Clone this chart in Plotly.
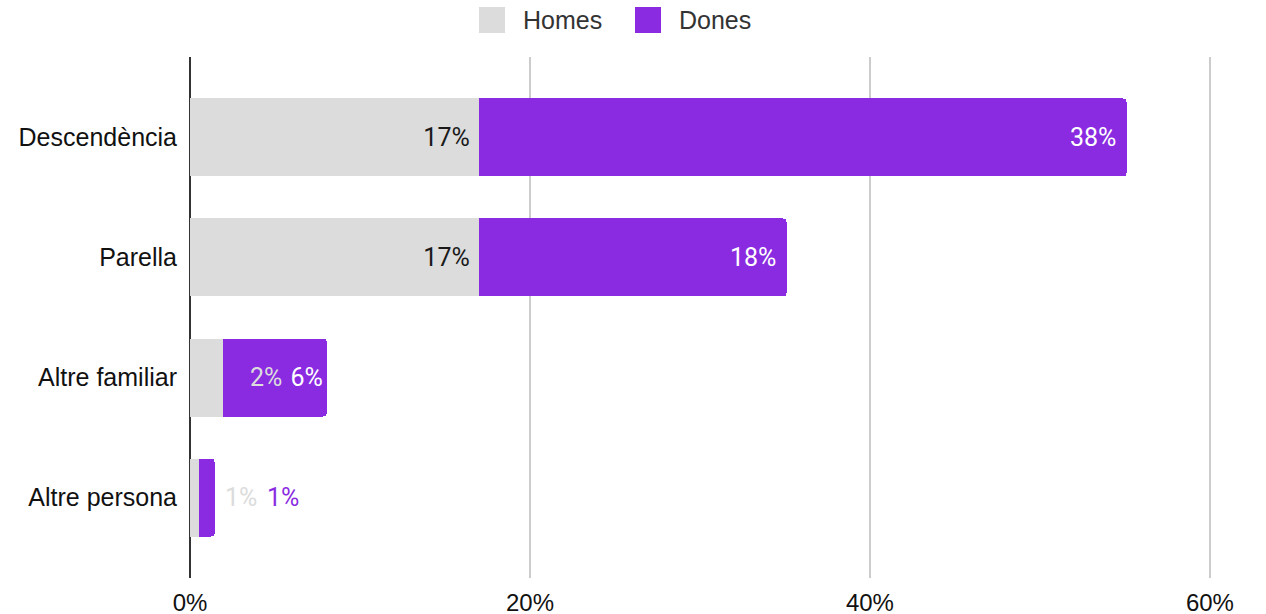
import plotly.graph_objects as go

categories = ["Descendència", "Parella", "Altre familiar", "Altre persona"]
homes = [17.0, 17.0, 1.95, 0.5]
dones = [38.1, 18.1, 6.1, 0.95]
homes_labels = ["17%", "17%", "2%", "1%"]
dones_labels = ["38%", "18%", "6%", "1%"]
x_ticks = [0, 20, 40, 60]
x_tick_labels = ["0%", "20%", "40%", "60%"]
series_names = ["Homes", "Dones"]

GRAY = "#dcdcdc"
PURPLE = "#8a2be2"
LABEL_FONT = "Roboto"
AXIS_FONT = "Liberation Sans, Arial, sans-serif"
NB = "\u00a0"

X_MAX = 60.3
# plot-area geometry in pixels (used to place the hand-made legend)
W, H = 1266, 614
ML, MR, MT, MB = 190, 51, 57, 36
PW, PH = W - ML - MR, H - MT - MB


def px_to_paper_x(px):
    return (px - ML) / PW


def px_to_paper_y(py):
    return (H - MB - py) / PH


fig = go.Figure()

fig.add_trace(go.Bar(
    y=categories, x=homes, name=series_names[0], orientation="h",
    marker=dict(color=GRAY, line=dict(width=0)),
    width=0.65,
    text=[homes_labels[0] + NB, homes_labels[1] + NB, "", ""],
    textposition="inside", insidetextanchor="end",
    textfont=dict(family=LABEL_FONT, size=25, color="#1a1a1a"),
    showlegend=False,
))
fig.add_trace(go.Bar(
    y=categories, x=dones, name=series_names[1], orientation="h",
    marker=dict(color=PURPLE, line=dict(width=0)),
    width=0.65,
    text=[dones_labels[0] + NB, dones_labels[1] + NB, dones_labels[2], ""],
    textposition="inside", insidetextanchor="end",
    textfont=dict(family=LABEL_FONT, size=25, color="#ffffff"),
    showlegend=False,
))

totals = [h + d for h, d in zip(homes, dones)]

# labels that do not fit inside their bars
fig.add_annotation(x=totals[2], y=categories[2], text=homes_labels[2],
                   xanchor="right", xshift=-43, showarrow=False,
                   font=dict(family=LABEL_FONT, size=25, color=GRAY))
fig.add_annotation(x=totals[3], y=categories[3], text=homes_labels[3],
                   xanchor="left", xshift=8, showarrow=False,
                   font=dict(family=LABEL_FONT, size=25, color=GRAY))
fig.add_annotation(x=totals[3], y=categories[3], text=dones_labels[3],
                   xanchor="left", xshift=50, showarrow=False,
                   font=dict(family=LABEL_FONT, size=25, color=PURPLE))

# legend (square swatches + labels)
legend_items = [(series_names[0], GRAY, 479, 521), (series_names[1], PURPLE, 635, 677)]
for name, col, sx, tx in legend_items:
    fig.add_shape(type="rect", xref="paper", yref="paper",
                  x0=px_to_paper_x(sx), x1=px_to_paper_x(sx + 26),
                  y0=px_to_paper_y(33), y1=px_to_paper_y(7),
                  fillcolor=col, line=dict(width=0), layer="above")
    fig.add_annotation(xref="paper", yref="paper",
                       x=px_to_paper_x(tx), y=px_to_paper_y(20),
                       xanchor="left", yanchor="middle", text=name,
                       showarrow=False,
                       font=dict(family=AXIS_FONT, size=25, color="#333333"))

fig.update_layout(
    width=W, height=H,
    margin=dict(l=ML, r=MR, t=MT, b=MB, autoexpand=False),
    barmode="stack",
    barcornerradius=4,
    paper_bgcolor="white", plot_bgcolor="white",
    showlegend=False,
    xaxis=dict(range=[0, X_MAX], tickvals=x_ticks, ticktext=x_tick_labels,
               showgrid=True, gridcolor="#cccccc", gridwidth=2,
               zeroline=True, zerolinecolor="#333333", zerolinewidth=2,
               showline=False, ticks="", ticklabelstandoff=8,
               automargin=False,
               tickfont=dict(family=AXIS_FONT, size=24, color="#111")),
    yaxis=dict(autorange=False, range=[3.67, -0.67],
               showgrid=False, zeroline=False, showline=False, ticks="",
               ticklabelstandoff=12, automargin=False,
               tickfont=dict(family=AXIS_FONT, size=25, color="#111")),
)

fig.write_html(
    "out.html",
    config={"displayModeBar": False},
    post_script="document.body.style.margin='0';document.body.style.overflow='hidden';",
)
